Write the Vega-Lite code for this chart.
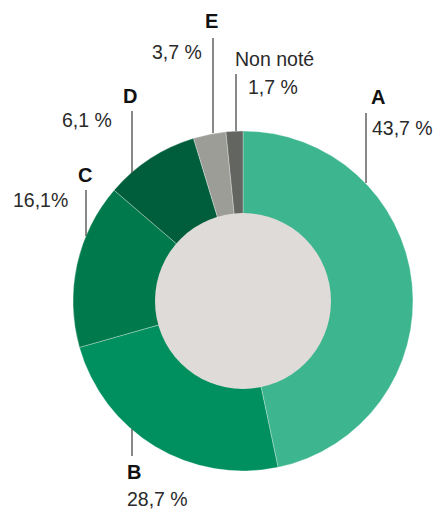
{
  "$schema": "https://vega.github.io/schema/vega-lite/v6.json",
  "width": 441,
  "height": 509,
  "padding": 0,
  "autosize": {"type": "none"},
  "background": "#ffffff",
  "config": {"view": {"stroke": null}, "font": "Liberation Sans"},
  "datasets": {
    "shares": [
      {"cat": "A", "value": 46.7, "ord": 1},
      {"cat": "B", "value": 23.9, "ord": 2},
      {"cat": "C", "value": 15.7, "ord": 3},
      {"cat": "D", "value": 9.0, "ord": 4},
      {"cat": "E", "value": 3.1, "ord": 5},
      {"cat": "Non noté", "value": 1.6, "ord": 6}
    ],
    "leaders": [
      {"cat": "A", "lx": 366, "y1": 113, "y2": 183},
      {"cat": "B", "lx": 132, "y1": 429, "y2": 456},
      {"cat": "C", "lx": 86, "y1": 190, "y2": 236},
      {"cat": "D", "lx": 132, "y1": 111, "y2": 173},
      {"cat": "E", "lx": 213, "y1": 38, "y2": 133},
      {"cat": "Non noté", "lx": 236, "y1": 74, "y2": 131}
    ],
    "labels": [
      {"text": "A", "tx": 371, "ty": 104, "kind": "letter"},
      {"text": "43,7 %", "tx": 372, "ty": 135, "kind": "value"},
      {"text": "B", "tx": 127, "ty": 479, "kind": "letter"},
      {"text": "28,7 %", "tx": 127, "ty": 506, "kind": "value"},
      {"text": "C", "tx": 78, "ty": 182, "kind": "letter"},
      {"text": "16,1%", "tx": 13, "ty": 207, "kind": "value"},
      {"text": "D", "tx": 123, "ty": 103, "kind": "letter"},
      {"text": "6,1 %", "tx": 62, "ty": 127, "kind": "value"},
      {"text": "E", "tx": 205, "ty": 28, "kind": "letter"},
      {"text": "3,7 %", "tx": 152, "ty": 59, "kind": "value"},
      {"text": "Non noté", "tx": 235, "ty": 66, "kind": "value"},
      {"text": "1,7 %", "tx": 248, "ty": 94, "kind": "value"}
    ],
    "hole": [{"value": 1}]
  },
  "resolve": {"scale": {"theta": "independent"}},
  "layer": [
    {
      "data": {"name": "shares"},
      "mark": {"type": "arc", "outerRadius": 170, "innerRadius": 80, "stroke": "#ffffff", "strokeWidth": 0.5, "strokeOpacity": 0.6},
      "encoding": {
        "x": {"datum": 243, "type": "quantitative", "scale": {"domain": [0, 441], "nice": false, "zero": false}, "axis": null},
        "y": {"datum": 301, "type": "quantitative", "scale": {"domain": [0, 509], "nice": false, "zero": false, "reverse": true}, "axis": null},
        "theta": {"field": "value", "type": "quantitative", "stack": true},
        "order": {"field": "ord", "type": "quantitative"},
        "color": {
          "field": "cat",
          "type": "nominal",
          "legend": null,
          "scale": {
            "domain": ["A", "B", "C", "D", "E", "Non noté"],
            "range": ["#3db58f", "#00905f", "#007a4c", "#005e3c", "#9d9d98", "#636561"]
          }
        }
      }
    },
    {
      "data": {"name": "hole"},
      "mark": {"type": "arc", "outerRadius": 88, "fill": "#dfdbd9"},
      "encoding": {
        "x": {"datum": 243, "type": "quantitative"},
        "y": {"datum": 301, "type": "quantitative"},
        "theta": {"field": "value", "type": "quantitative", "stack": true}
      }
    },
    {
      "data": {"name": "leaders"},
      "mark": {"type": "rule", "color": "#4a4a4a", "strokeWidth": 1.3},
      "encoding": {
        "x": {"field": "lx", "type": "quantitative"},
        "y": {"field": "y1", "type": "quantitative"},
        "y2": {"field": "y2"}
      }
    },
    {
      "data": {"name": "labels"},
      "transform": [{"filter": "datum.kind === 'letter'"}],
      "mark": {"type": "text", "align": "left", "baseline": "alphabetic", "fontSize": 20, "fontWeight": "bold", "color": "#111111"},
      "encoding": {
        "x": {"field": "tx", "type": "quantitative"},
        "y": {"field": "ty", "type": "quantitative"},
        "text": {"field": "text"}
      }
    },
    {
      "data": {"name": "labels"},
      "transform": [{"filter": "datum.kind === 'value'"}],
      "mark": {"type": "text", "align": "left", "baseline": "alphabetic", "fontSize": 19.5, "color": "#2a2a2a"},
      "encoding": {
        "x": {"field": "tx", "type": "quantitative"},
        "y": {"field": "ty", "type": "quantitative"},
        "text": {"field": "text"}
      }
    }
  ]
}
